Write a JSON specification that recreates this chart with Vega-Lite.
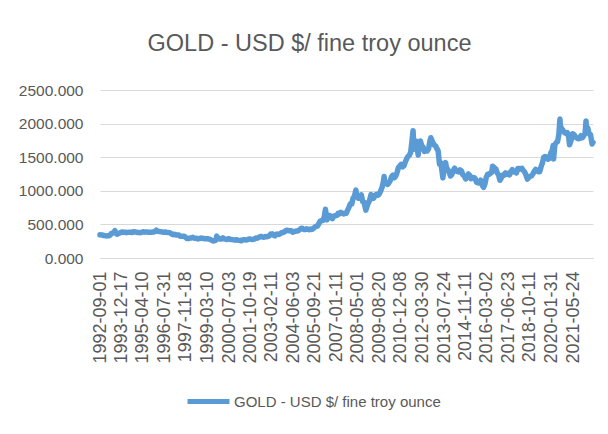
{
  "$schema": "https://vega.github.io/schema/vega-lite/v6.json",
  "width": 493,
  "height": 168,
  "autosize": {"type": "none"},
  "padding": {"left": 100, "top": 90, "right": 15, "bottom": 176},
  "background": "white",
  "title": {
    "text": "GOLD - USD $/ fine troy ounce",
    "font": "Liberation Sans",
    "fontSize": 23.5,
    "fontWeight": "normal",
    "color": "#595959",
    "anchor": "middle",
    "dx": -37,
    "offset": 28
  },
  "data": {
    "values": [
      {"date": "1992-09-01", "price": 345}, {"date": "1992-10-15", "price": 344}, {"date": "1992-11-15", "price": 335}, {"date": "1992-12-15", "price": 334},
      {"date": "1993-01-15", "price": 329}, {"date": "1993-02-15", "price": 330}, {"date": "1993-03-15", "price": 330}, {"date": "1993-04-15", "price": 342}, {"date": "1993-05-15", "price": 367}, {"date": "1993-06-15", "price": 372}, {"date": "1993-07-15", "price": 392}, {"date": "1993-07-30", "price": 406}, {"date": "1993-08-15", "price": 379}, {"date": "1993-09-15", "price": 355}, {"date": "1993-10-15", "price": 364}, {"date": "1993-11-15", "price": 373}, {"date": "1993-12-15", "price": 383},
      {"date": "1994-01-15", "price": 387}, {"date": "1994-02-15", "price": 382}, {"date": "1994-03-15", "price": 384}, {"date": "1994-04-15", "price": 377}, {"date": "1994-05-15", "price": 381}, {"date": "1994-06-15", "price": 385}, {"date": "1994-07-15", "price": 385}, {"date": "1994-08-15", "price": 380}, {"date": "1994-09-15", "price": 391}, {"date": "1994-10-15", "price": 389}, {"date": "1994-11-15", "price": 384}, {"date": "1994-12-15", "price": 379},
      {"date": "1995-01-15", "price": 379}, {"date": "1995-02-15", "price": 377}, {"date": "1995-03-15", "price": 382}, {"date": "1995-04-15", "price": 391}, {"date": "1995-05-15", "price": 385}, {"date": "1995-06-15", "price": 387}, {"date": "1995-07-15", "price": 386}, {"date": "1995-08-15", "price": 383}, {"date": "1995-09-15", "price": 383}, {"date": "1995-10-15", "price": 383}, {"date": "1995-11-15", "price": 386}, {"date": "1995-12-15", "price": 387},
      {"date": "1996-01-15", "price": 400}, {"date": "1996-02-02", "price": 415}, {"date": "1996-02-15", "price": 405}, {"date": "1996-03-15", "price": 396}, {"date": "1996-04-15", "price": 393}, {"date": "1996-05-15", "price": 392}, {"date": "1996-06-15", "price": 385}, {"date": "1996-07-15", "price": 383}, {"date": "1996-08-15", "price": 387}, {"date": "1996-09-15", "price": 383}, {"date": "1996-10-15", "price": 381}, {"date": "1996-11-15", "price": 378}, {"date": "1996-12-15", "price": 369},
      {"date": "1997-01-15", "price": 355}, {"date": "1997-02-15", "price": 347}, {"date": "1997-03-15", "price": 352}, {"date": "1997-04-15", "price": 344}, {"date": "1997-05-15", "price": 344}, {"date": "1997-06-15", "price": 341}, {"date": "1997-07-15", "price": 324}, {"date": "1997-08-15", "price": 324}, {"date": "1997-09-15", "price": 323}, {"date": "1997-10-15", "price": 325}, {"date": "1997-11-15", "price": 306}, {"date": "1997-12-15", "price": 289},
      {"date": "1998-01-15", "price": 289}, {"date": "1998-02-15", "price": 297}, {"date": "1998-03-15", "price": 296}, {"date": "1998-04-15", "price": 308}, {"date": "1998-05-15", "price": 299}, {"date": "1998-06-15", "price": 292}, {"date": "1998-07-15", "price": 293}, {"date": "1998-08-15", "price": 284}, {"date": "1998-09-15", "price": 289}, {"date": "1998-10-15", "price": 296}, {"date": "1998-11-15", "price": 294}, {"date": "1998-12-15", "price": 291},
      {"date": "1999-01-15", "price": 287}, {"date": "1999-02-15", "price": 287}, {"date": "1999-03-15", "price": 286}, {"date": "1999-04-15", "price": 282}, {"date": "1999-05-15", "price": 277}, {"date": "1999-06-15", "price": 262}, {"date": "1999-07-15", "price": 256}, {"date": "1999-07-20", "price": 252}, {"date": "1999-08-15", "price": 257}, {"date": "1999-09-15", "price": 265}, {"date": "1999-10-05", "price": 325}, {"date": "1999-10-15", "price": 311}, {"date": "1999-11-15", "price": 293}, {"date": "1999-12-15", "price": 283},
      {"date": "2000-01-15", "price": 284}, {"date": "2000-02-15", "price": 299}, {"date": "2000-03-15", "price": 286}, {"date": "2000-04-15", "price": 280}, {"date": "2000-05-15", "price": 275}, {"date": "2000-06-15", "price": 286}, {"date": "2000-07-15", "price": 282}, {"date": "2000-08-15", "price": 275}, {"date": "2000-09-15", "price": 274}, {"date": "2000-10-15", "price": 270}, {"date": "2000-11-15", "price": 266}, {"date": "2000-12-15", "price": 272},
      {"date": "2001-01-15", "price": 266}, {"date": "2001-02-15", "price": 262}, {"date": "2001-03-15", "price": 263}, {"date": "2001-04-02", "price": 256}, {"date": "2001-04-15", "price": 261}, {"date": "2001-05-15", "price": 272}, {"date": "2001-06-15", "price": 270}, {"date": "2001-07-15", "price": 268}, {"date": "2001-08-15", "price": 273}, {"date": "2001-09-15", "price": 283}, {"date": "2001-10-15", "price": 283}, {"date": "2001-11-15", "price": 276}, {"date": "2001-12-15", "price": 276},
      {"date": "2002-01-15", "price": 282}, {"date": "2002-02-15", "price": 296}, {"date": "2002-03-15", "price": 294}, {"date": "2002-04-15", "price": 302}, {"date": "2002-05-15", "price": 314}, {"date": "2002-06-15", "price": 321}, {"date": "2002-07-15", "price": 313}, {"date": "2002-08-15", "price": 310}, {"date": "2002-09-15", "price": 319}, {"date": "2002-10-15", "price": 317}, {"date": "2002-11-15", "price": 319}, {"date": "2002-12-15", "price": 333},
      {"date": "2003-01-15", "price": 357}, {"date": "2003-02-15", "price": 359}, {"date": "2003-03-15", "price": 340}, {"date": "2003-04-15", "price": 328}, {"date": "2003-05-15", "price": 355}, {"date": "2003-06-15", "price": 356}, {"date": "2003-07-15", "price": 351}, {"date": "2003-08-15", "price": 360}, {"date": "2003-09-15", "price": 379}, {"date": "2003-10-15", "price": 379}, {"date": "2003-11-15", "price": 389}, {"date": "2003-12-15", "price": 407},
      {"date": "2004-01-15", "price": 414}, {"date": "2004-02-15", "price": 405}, {"date": "2004-03-15", "price": 406}, {"date": "2004-04-15", "price": 404}, {"date": "2004-05-15", "price": 384}, {"date": "2004-06-15", "price": 392}, {"date": "2004-07-15", "price": 398}, {"date": "2004-08-15", "price": 401}, {"date": "2004-09-15", "price": 406}, {"date": "2004-10-15", "price": 420}, {"date": "2004-11-15", "price": 439}, {"date": "2004-12-15", "price": 442},
      {"date": "2005-01-15", "price": 424}, {"date": "2005-02-15", "price": 423}, {"date": "2005-03-15", "price": 434}, {"date": "2005-04-15", "price": 429}, {"date": "2005-05-15", "price": 422}, {"date": "2005-06-15", "price": 431}, {"date": "2005-07-15", "price": 424}, {"date": "2005-08-15", "price": 438}, {"date": "2005-09-15", "price": 457}, {"date": "2005-10-15", "price": 470}, {"date": "2005-11-15", "price": 476}, {"date": "2005-12-15", "price": 510},
      {"date": "2006-01-15", "price": 549}, {"date": "2006-02-15", "price": 555}, {"date": "2006-03-15", "price": 557}, {"date": "2006-04-15", "price": 610}, {"date": "2006-05-12", "price": 725}, {"date": "2006-05-25", "price": 660}, {"date": "2006-06-14", "price": 567}, {"date": "2006-07-15", "price": 633}, {"date": "2006-08-15", "price": 632}, {"date": "2006-09-15", "price": 598}, {"date": "2006-10-15", "price": 586}, {"date": "2006-11-15", "price": 627}, {"date": "2006-12-15", "price": 629},
      {"date": "2007-01-15", "price": 631}, {"date": "2007-02-15", "price": 665}, {"date": "2007-03-15", "price": 655}, {"date": "2007-04-15", "price": 679}, {"date": "2007-05-15", "price": 667}, {"date": "2007-06-15", "price": 655}, {"date": "2007-07-15", "price": 665}, {"date": "2007-08-15", "price": 665}, {"date": "2007-09-15", "price": 712}, {"date": "2007-10-15", "price": 754}, {"date": "2007-11-15", "price": 806}, {"date": "2007-12-15", "price": 803},
      {"date": "2008-01-15", "price": 889}, {"date": "2008-02-15", "price": 922}, {"date": "2008-03-17", "price": 1011}, {"date": "2008-03-31", "price": 940}, {"date": "2008-04-15", "price": 909}, {"date": "2008-05-15", "price": 888}, {"date": "2008-06-15", "price": 889}, {"date": "2008-07-15", "price": 939}, {"date": "2008-08-15", "price": 839}, {"date": "2008-09-15", "price": 829}, {"date": "2008-10-24", "price": 713}, {"date": "2008-11-15", "price": 760}, {"date": "2008-12-15", "price": 816},
      {"date": "2009-01-15", "price": 858}, {"date": "2009-02-15", "price": 943}, {"date": "2009-03-15", "price": 924}, {"date": "2009-04-15", "price": 890}, {"date": "2009-05-15", "price": 928}, {"date": "2009-06-15", "price": 946}, {"date": "2009-07-15", "price": 934}, {"date": "2009-08-15", "price": 949}, {"date": "2009-09-15", "price": 996}, {"date": "2009-10-15", "price": 1043}, {"date": "2009-11-15", "price": 1127}, {"date": "2009-12-03", "price": 1213}, {"date": "2009-12-15", "price": 1135},
      {"date": "2010-01-15", "price": 1118}, {"date": "2010-02-15", "price": 1095}, {"date": "2010-03-15", "price": 1113}, {"date": "2010-04-15", "price": 1148}, {"date": "2010-05-15", "price": 1205}, {"date": "2010-06-15", "price": 1232}, {"date": "2010-07-15", "price": 1193}, {"date": "2010-08-15", "price": 1215}, {"date": "2010-09-15", "price": 1271}, {"date": "2010-10-15", "price": 1343}, {"date": "2010-11-15", "price": 1370}, {"date": "2010-12-15", "price": 1391},
      {"date": "2011-01-15", "price": 1356}, {"date": "2011-02-15", "price": 1372}, {"date": "2011-03-15", "price": 1424}, {"date": "2011-04-15", "price": 1474}, {"date": "2011-05-15", "price": 1510}, {"date": "2011-06-15", "price": 1529}, {"date": "2011-07-15", "price": 1572}, {"date": "2011-08-15", "price": 1756}, {"date": "2011-09-06", "price": 1895}, {"date": "2011-09-26", "price": 1620}, {"date": "2011-10-15", "price": 1665}, {"date": "2011-11-15", "price": 1739}, {"date": "2011-12-29", "price": 1531},
      {"date": "2012-01-15", "price": 1656}, {"date": "2012-02-15", "price": 1742}, {"date": "2012-03-15", "price": 1673}, {"date": "2012-04-15", "price": 1650}, {"date": "2012-05-15", "price": 1585}, {"date": "2012-06-15", "price": 1596}, {"date": "2012-07-15", "price": 1594}, {"date": "2012-08-15", "price": 1626}, {"date": "2012-09-15", "price": 1744}, {"date": "2012-10-04", "price": 1790}, {"date": "2012-11-15", "price": 1721}, {"date": "2012-12-15", "price": 1684},
      {"date": "2013-01-15", "price": 1671}, {"date": "2013-02-15", "price": 1627}, {"date": "2013-03-15", "price": 1593}, {"date": "2013-04-15", "price": 1395}, {"date": "2013-05-15", "price": 1414}, {"date": "2013-06-28", "price": 1192}, {"date": "2013-07-15", "price": 1286}, {"date": "2013-08-27", "price": 1420}, {"date": "2013-09-15", "price": 1349}, {"date": "2013-10-15", "price": 1316}, {"date": "2013-11-15", "price": 1275}, {"date": "2013-12-15", "price": 1221},
      {"date": "2014-01-15", "price": 1244}, {"date": "2014-02-15", "price": 1300}, {"date": "2014-03-15", "price": 1336}, {"date": "2014-04-15", "price": 1299}, {"date": "2014-05-15", "price": 1287}, {"date": "2014-06-15", "price": 1279}, {"date": "2014-07-15", "price": 1311}, {"date": "2014-08-15", "price": 1296}, {"date": "2014-09-15", "price": 1239}, {"date": "2014-10-15", "price": 1222}, {"date": "2014-11-15", "price": 1176}, {"date": "2014-12-15", "price": 1201},
      {"date": "2015-01-15", "price": 1251}, {"date": "2015-02-15", "price": 1227}, {"date": "2015-03-15", "price": 1179}, {"date": "2015-04-15", "price": 1198}, {"date": "2015-05-15", "price": 1199}, {"date": "2015-06-15", "price": 1181}, {"date": "2015-07-15", "price": 1128}, {"date": "2015-08-15", "price": 1117}, {"date": "2015-09-15", "price": 1125}, {"date": "2015-10-15", "price": 1159}, {"date": "2015-11-15", "price": 1086}, {"date": "2015-12-17", "price": 1050},
      {"date": "2016-01-15", "price": 1097}, {"date": "2016-02-15", "price": 1199}, {"date": "2016-03-15", "price": 1246}, {"date": "2016-04-15", "price": 1242}, {"date": "2016-05-15", "price": 1260}, {"date": "2016-06-15", "price": 1276}, {"date": "2016-07-06", "price": 1366}, {"date": "2016-08-15", "price": 1341}, {"date": "2016-09-15", "price": 1326}, {"date": "2016-10-15", "price": 1267}, {"date": "2016-11-15", "price": 1238}, {"date": "2016-12-15", "price": 1157},
      {"date": "2017-01-15", "price": 1192}, {"date": "2017-02-15", "price": 1234}, {"date": "2017-03-15", "price": 1231}, {"date": "2017-04-15", "price": 1267}, {"date": "2017-05-15", "price": 1246}, {"date": "2017-06-15", "price": 1260}, {"date": "2017-07-15", "price": 1236}, {"date": "2017-08-15", "price": 1283}, {"date": "2017-09-15", "price": 1315}, {"date": "2017-10-15", "price": 1280}, {"date": "2017-11-15", "price": 1282}, {"date": "2017-12-15", "price": 1265},
      {"date": "2018-01-15", "price": 1331}, {"date": "2018-02-15", "price": 1331}, {"date": "2018-03-15", "price": 1325}, {"date": "2018-04-15", "price": 1335}, {"date": "2018-05-15", "price": 1303}, {"date": "2018-06-15", "price": 1282}, {"date": "2018-07-15", "price": 1238}, {"date": "2018-08-16", "price": 1174}, {"date": "2018-09-15", "price": 1198}, {"date": "2018-10-15", "price": 1215}, {"date": "2018-11-15", "price": 1221}, {"date": "2018-12-15", "price": 1250},
      {"date": "2019-01-15", "price": 1291}, {"date": "2019-02-15", "price": 1320}, {"date": "2019-03-15", "price": 1300}, {"date": "2019-04-15", "price": 1285}, {"date": "2019-05-15", "price": 1284}, {"date": "2019-06-15", "price": 1359}, {"date": "2019-07-15", "price": 1413}, {"date": "2019-08-15", "price": 1500}, {"date": "2019-09-15", "price": 1510}, {"date": "2019-10-15", "price": 1495}, {"date": "2019-11-15", "price": 1471}, {"date": "2019-12-15", "price": 1480},
      {"date": "2020-01-15", "price": 1560}, {"date": "2020-02-15", "price": 1597}, {"date": "2020-03-09", "price": 1675}, {"date": "2020-03-19", "price": 1474}, {"date": "2020-04-15", "price": 1683}, {"date": "2020-05-15", "price": 1716}, {"date": "2020-06-15", "price": 1732}, {"date": "2020-07-15", "price": 1846}, {"date": "2020-08-07", "price": 2067}, {"date": "2020-08-15", "price": 1968}, {"date": "2020-09-15", "price": 1922}, {"date": "2020-10-15", "price": 1900}, {"date": "2020-11-15", "price": 1866}, {"date": "2020-12-15", "price": 1858},
      {"date": "2021-01-15", "price": 1867}, {"date": "2021-02-15", "price": 1808}, {"date": "2021-03-08", "price": 1684}, {"date": "2021-04-15", "price": 1760}, {"date": "2021-05-15", "price": 1850}, {"date": "2021-06-15", "price": 1834}, {"date": "2021-07-15", "price": 1807}, {"date": "2021-08-15", "price": 1785}, {"date": "2021-09-15", "price": 1776}, {"date": "2021-10-15", "price": 1777}, {"date": "2021-11-15", "price": 1821}, {"date": "2021-12-15", "price": 1790},
      {"date": "2022-01-15", "price": 1817}, {"date": "2022-02-15", "price": 1856}, {"date": "2022-03-08", "price": 2039}, {"date": "2022-03-15", "price": 1948}, {"date": "2022-04-15", "price": 1937}, {"date": "2022-05-15", "price": 1849}, {"date": "2022-06-15", "price": 1837}, {"date": "2022-07-21", "price": 1697}, {"date": "2022-08-10", "price": 1720}
    ]
  },
  "mark": {"type": "line", "strokeWidth": 5.5, "strokeJoin": "round", "strokeCap": "round"},
  "encoding": {
    "x": {
      "field": "date",
      "type": "temporal",
      "scale": {
        "type": "utc",
        "nice": false,
        "domain": [
          {"year": 1992, "month": 9, "date": 1, "utc": true},
          {"year": 2022, "month": 8, "date": 10, "utc": true}
        ]
      },
      "axis": {
        "title": null,
        "grid": false,
        "ticks": false,
        "domain": true,
        "domainColor": "#d9d9d9",
        "domainWidth": 1,
        "labelAngle": 270,
        "labelAlign": "right",
        "labelBaseline": "middle",
        "labelPadding": 13,
        "labelFont": "Liberation Sans",
        "labelFontSize": 18,
        "labelColor": "#595959",
        "labelOverlap": false,
        "labelFlush": false,
        "labelBound": false,
        "values": [
          {"year": 1992, "month": 9, "date": 1, "utc": true},
          {"year": 1993, "month": 12, "date": 17, "utc": true},
          {"year": 1995, "month": 4, "date": 10, "utc": true},
          {"year": 1996, "month": 7, "date": 31, "utc": true},
          {"year": 1997, "month": 11, "date": 18, "utc": true},
          {"year": 1999, "month": 3, "date": 10, "utc": true},
          {"year": 2000, "month": 7, "date": 3, "utc": true},
          {"year": 2001, "month": 10, "date": 19, "utc": true},
          {"year": 2003, "month": 2, "date": 11, "utc": true},
          {"year": 2004, "month": 6, "date": 3, "utc": true},
          {"year": 2005, "month": 9, "date": 21, "utc": true},
          {"year": 2007, "month": 1, "date": 11, "utc": true},
          {"year": 2008, "month": 5, "date": 1, "utc": true},
          {"year": 2009, "month": 8, "date": 20, "utc": true},
          {"year": 2010, "month": 12, "date": 8, "utc": true},
          {"year": 2012, "month": 3, "date": 30, "utc": true},
          {"year": 2013, "month": 7, "date": 24, "utc": true},
          {"year": 2014, "month": 11, "date": 11, "utc": true},
          {"year": 2016, "month": 3, "date": 2, "utc": true},
          {"year": 2017, "month": 6, "date": 23, "utc": true},
          {"year": 2018, "month": 10, "date": 11, "utc": true},
          {"year": 2020, "month": 1, "date": 31, "utc": true},
          {"year": 2021, "month": 5, "date": 24, "utc": true}
        ],
        "labelExpr": "utcFormat(datum.value, '%Y-%m-%d')"
      }
    },
    "y": {
      "field": "price",
      "type": "quantitative",
      "scale": {"domain": [0, 2500], "nice": false, "zero": true},
      "axis": {
        "title": null,
        "values": [0, 500, 1000, 1500, 2000, 2500],
        "format": ".3f",
        "grid": true,
        "gridColor": "#d9d9d9",
        "gridWidth": 1,
        "domain": false,
        "ticks": false,
        "labelPadding": 17,
        "labelFont": "Liberation Sans",
        "labelFontSize": 15.5,
        "labelColor": "#595959"
      }
    },
    "color": {
      "datum": "GOLD - USD $/ fine troy ounce",
      "type": "nominal",
      "scale": {"range": ["#5B9BD5"]},
      "legend": {
        "title": null,
        "orient": "none",
        "legendX": 85,
        "legendY": 288,
        "padding": 0,
        "symbolType": "stroke",
        "symbolSize": 1764,
        "symbolStrokeWidth": 5,
        "labelFont": "Liberation Sans",
        "labelFontSize": 15,
        "labelColor": "#595959",
        "labelOffset": 2,
        "labelLimit": 0
      }
    }
  },
  "config": {
    "view": {"stroke": null}
  }
}
